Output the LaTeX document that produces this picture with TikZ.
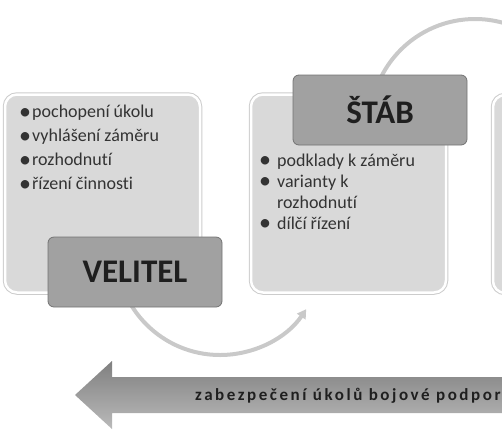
\documentclass[tikz,border=0pt]{standalone}
\usepackage{fontspec}
\setmainfont{Carlito}[Ligatures=NoCommon]
\newfontfamily\spacedfont[LetterSpace=15, Ligatures=NoCommon]{Carlito}
\usetikzlibrary{arrows.meta}

\newcommand{\listdot}{\makebox[12pt][c]{\smash{\raisebox{-1.5pt}{\fontsize{24}{24}\selectfont\textbullet}}}}

\tikzset{
  infobox/.style={rounded corners=12pt, fill=black!15, draw=white, line width=2.5pt,
    preaction={draw=black!20, line width=4.5pt}, minimum width=195pt, minimum height=198pt, inner sep=0pt},
  rolebox/.style={rounded corners=6pt, fill=black!37, draw=black!55, line width=0.8pt,
    minimum width=174pt, minimum height=70pt, inner sep=0pt, text=black!88,
    font=\fontsize{33}{40}\selectfont\bfseries},
  looparc/.style={draw=black!21, line width=4pt},
  listtext/.style={anchor=base west, inner sep=0pt, text=black!80, align=left}
}

\begin{document}
\begin{tikzpicture}[x=1pt, y=-1pt]
            \clip (0,0) rectangle (502,437);

            % Define arcs between the boxes
            \coordinate (arcstart) at (116,251);
            \coordinate (toparcstart) at (370,124);
            \draw[looparc, -{Triangle[length=9pt, width=10pt]}] (arcstart) arc[start angle=180, end angle=34, radius=104];
            \draw[looparc] (toparcstart) arc[start angle=180, end angle=300, radius=105];

            % Define boxes
            \node[infobox] (velitelbox) at (102.5,193.5) {};
            \node[infobox] (stabbox) at (348.5,193.5) {};
            \node[infobox] (nextbox) at (590.5,194) {};

            % Lists
            \node[listtext, font=\fontsize{18}{24}\selectfont] (velitellist) at (19,117.5) {%
              \begin{tabular}[t]{@{}l@{\hspace{1pt}}l@{}}
              \listdot & pochopení úkolu\\
              \listdot & vyhlášení záměru\\
              \listdot & rozhodnutí\\
              \listdot & řízení činnosti
              \end{tabular}};
            \node[listtext, font=\fontsize{18}{21}\selectfont] (stablist) at (259,166) {%
              \begin{tabular}[t]{@{}l@{\hspace{6pt}}l@{}}
              \listdot & podklady k záměru\\
              \listdot & varianty k\\
               & rozhodnutí\\
              \listdot & dílčí řízení
              \end{tabular}};

            % Define labels
            \node[rolebox] (velitel) at (135,272) {VELITEL};
            \node[rolebox] (stab) at (380,110) {ŠTÁB};

            % Big arrow at the bottom
            \path[shading=axis, top color=black!50, bottom color=black!27]
              (520,377) -- (112,377) -- (112,361) -- (75,395) -- (112,429) -- (112,413) -- (520,413) -- cycle;
            \node[anchor=base west, inner sep=0pt, text=black!88,
              font=\spacedfont\bfseries\fontsize{17}{19}\selectfont] (support) at (195,400.5) {zabezpečení úkolů bojové podpory};
        \end{tikzpicture}
\end{document}
